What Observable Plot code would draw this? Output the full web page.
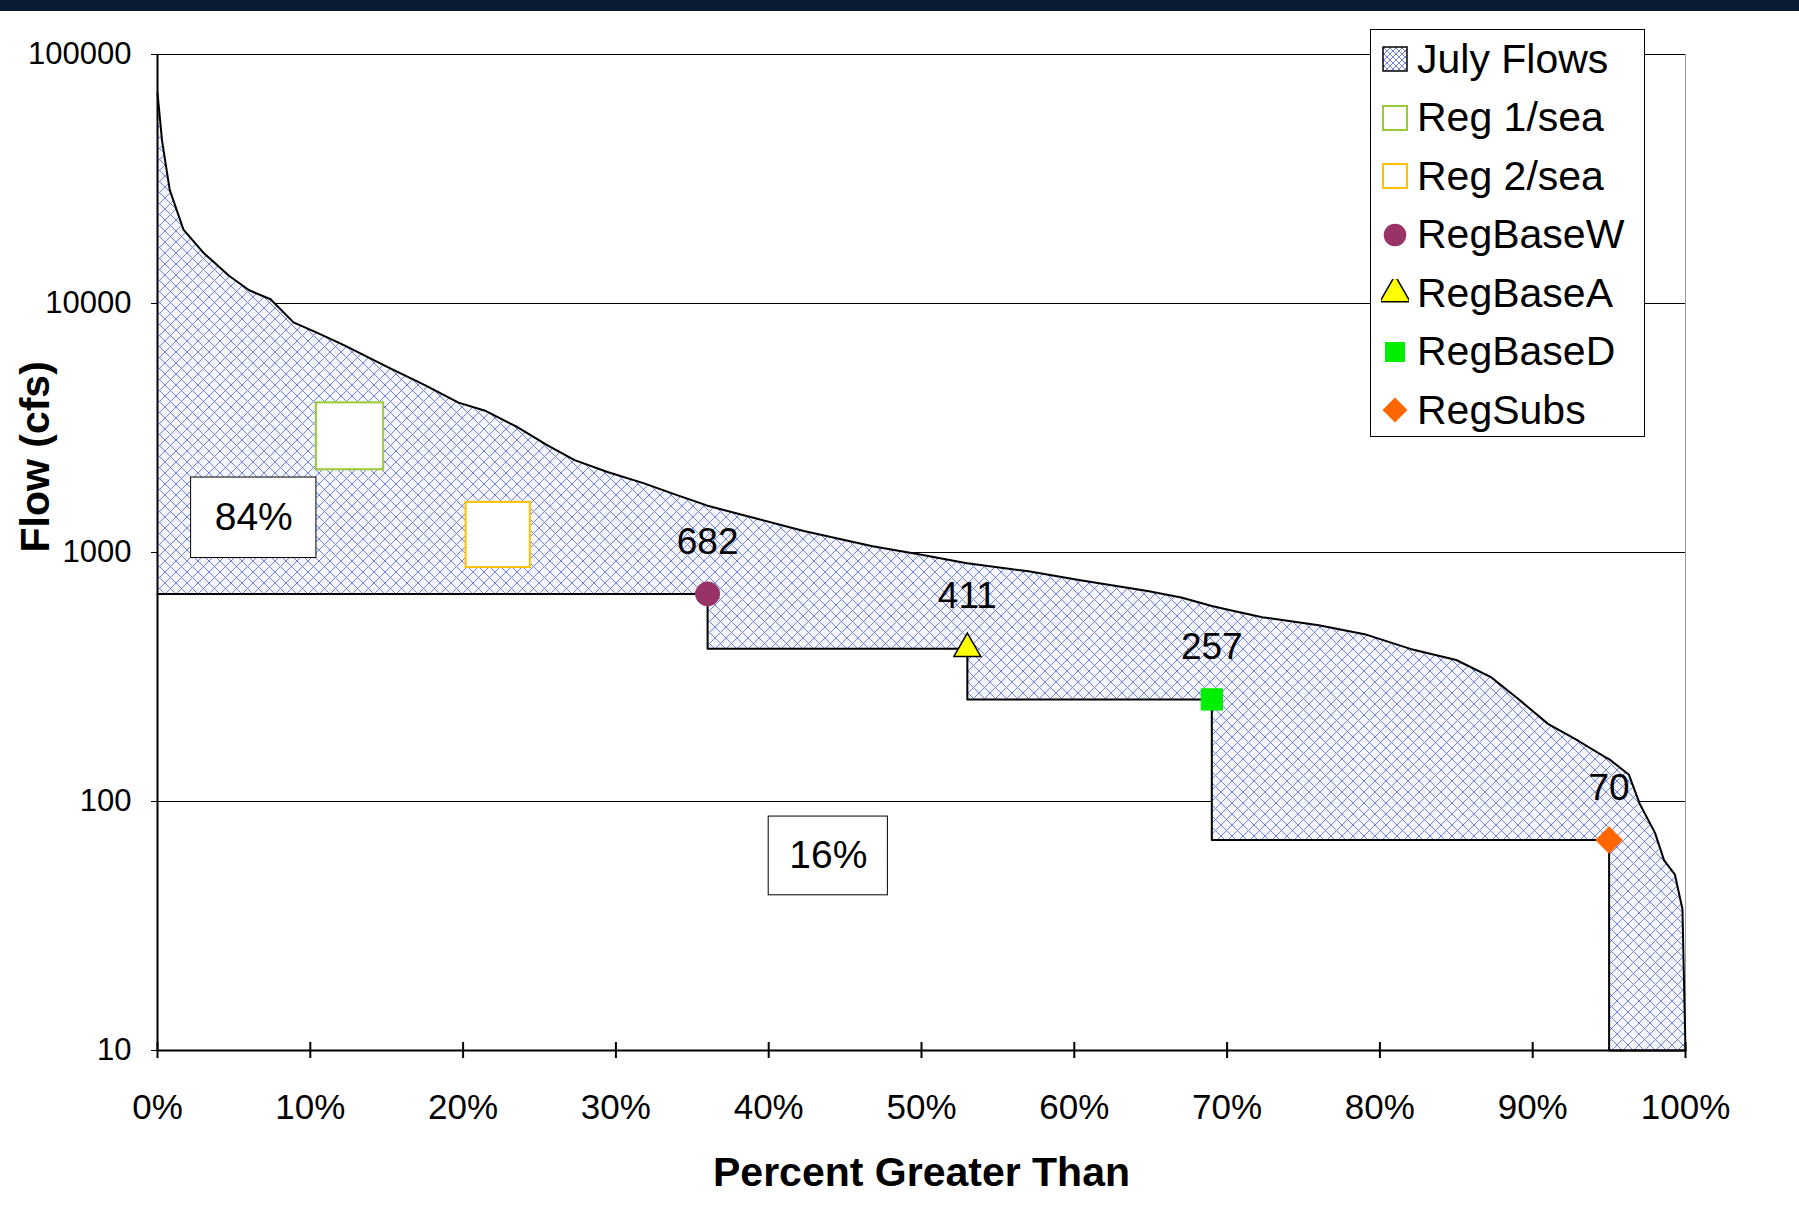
<!DOCTYPE html>
<html><head><meta charset="utf-8">
<script src="https://cdn.jsdelivr.net/npm/d3@7"></script>
<script src="https://cdn.jsdelivr.net/npm/@observablehq/plot@0.6"></script>
<style>
body{margin:0;background:#fff;font-family:"Liberation Sans",Arial,sans-serif}
#wrap{position:relative;width:1799px;height:1228px}
#band{position:absolute;left:0;top:0;width:1799px;height:11px;background:#0b1a33}
#legend{position:absolute;left:1370px;top:29px;width:275px;height:408px;border:1.5px solid #000;background:#fff;box-sizing:border-box;padding:0 0 0 10px}
#legend div{display:flex;align-items:center;height:58.5px;font-size:41px}
#legend svg{margin-right:8px}
</style></head>
<body><div id="wrap"><div id="chart"></div><div id="band"></div><div id="legend"></div></div>
<script>
// flow duration curve (percent exceeded, cfs)
const pct  = [0, 0.3, 0.8, 1.7, 3, 4.7, 6, 7.4, 8.9, 10.5, 12.2, 15.2, 17.5, 19.7, 21.5, 23.5, 25.5, 27.3, 29.5, 31.8, 34, 35.9, 36, 39, 42.3, 46.8, 50, 52.8, 53, 57, 60.3, 64.8, 67, 69, 70, 72.3, 76, 79, 82, 85, 87.3, 89, 91, 93, 94.8, 95, 96.3, 97, 98, 98.6, 99.3, 99.8, 100]
const flow = [70000, 45000, 28600, 19800, 16000, 12900, 11300, 10400, 8400, 7600, 6800, 5500, 4700, 4000, 3700, 3200, 2700, 2350, 2100, 1900, 1700, 1550, 1540, 1380, 1220, 1060, 980, 910, 905, 840, 775, 700, 660, 610, 590, 550, 510, 470, 410, 370, 315, 260, 205, 175, 150, 148, 128, 98, 75, 58, 51, 37, 10]

// regulation steps
const stepStart = [0, 36, 53, 69, 95]
const stepEnd   = [36, 53, 69, 95, 100]
const stepFlow  = [682, 411, 257, 70, 10]

// markers
const markNames = ['RegBaseW', 'RegBaseA', 'RegBaseD', 'RegSubs']
const markPct   = [36, 53, 69, 95]
const markFlow  = [682, 411, 257, 70]
const markColor = ['#993366', '#ffff00', '#00ee00', '#ff6600']
const markSym   = ['circle', 'triangle', 'square', 'diamond2']

// boxes [x1,x2,y1,y2] in data units
const regNames  = ['Reg 1/sea', 'Reg 2/sea']
const regColor  = ['#99cc33', '#ffc000']
const regBox    = [[10.4, 14.8, 2150, 3990], [20.2, 24.4, 870, 1590]]
const pctLabels = ['84%', '16%']
const pctBox    = [[2.2, 10.4, 950, 2000], [40, 47.8, 42, 87]]

const stepAt = x => { for (let i = 0; i < stepStart.length; i++) if (x < stepEnd[i] || i == stepStart.length - 1) return stepFlow[i] }
const curve = pct.map((p, i) => ({p, f: flow[i]}))
// area: add step break points
const area = []
curve.forEach(d => {
  const k = stepStart.indexOf(d.p)
  if (k > 0) { area.push({p: d.p, lo: stepFlow[k - 1], hi: d.f}); area.push({p: d.p, lo: stepFlow[k], hi: d.f}) }
  else area.push({p: d.p, lo: stepAt(d.p), hi: d.f})
})
const stepLine = []
stepStart.forEach((s, i) => { stepLine.push({p: s, f: stepFlow[i]}); stepLine.push({p: stepEnd[i], f: stepFlow[i]}) })
const marks = markNames.map((n, i) => ({n, p: markPct[i], f: markFlow[i], c: markColor[i], s: markSym[i]}))
const regs = regBox.map((b, i) => ({x1: b[0], x2: b[1], y1: b[2], y2: b[3], c: regColor[i]}))
const pboxes = pctBox.map((b, i) => ({x1: b[0], x2: b[1], y1: b[2], y2: b[3], t: pctLabels[i], cx: (b[0] + b[1]) / 2, cy: Math.sqrt(b[2] * b[3])}))

const chart = Plot.plot({
  width: 1799, height: 1228,
  marginLeft: 157, marginRight: 114, marginTop: 54, marginBottom: 178,
  style: {fontFamily: '"Liberation Sans", Arial, sans-serif', background: '#fff'},
  x: {domain: [0, 100]},
  y: {type: 'log', domain: [10, 100000]},
  marks: [
    Plot.ruleY([100, 1000, 10000, 100000], {stroke: '#000', strokeWidth: 1}),
    Plot.ruleX([100], {stroke: '#999', strokeWidth: 1}),
    Plot.areaY(area, {x: 'p', y1: 'lo', y2: 'hi', fill: '#ccd', className: 'hatch'}),
    Plot.line(curve, {x: 'p', y: 'f', stroke: '#000', strokeWidth: 2}),
    Plot.line(stepLine, {x: 'p', y: 'f', stroke: '#000', strokeWidth: 2}),
    Plot.rect(regs, {x1: 'x1', x2: 'x2', y1: 'y1', y2: 'y2', fill: '#fff', stroke: 'c', strokeWidth: 2}),
    Plot.rect(pboxes, {x1: 'x1', x2: 'x2', y1: 'y1', y2: 'y2', fill: '#fff', stroke: '#000', strokeWidth: 1}),
    Plot.text(pboxes, {x: 'cx', y: 'cy', text: 't', fontSize: 39, fill: '#000'}),
    Plot.dot(marks.filter(d => d.s != 'triangle'), {x: 'p', y: 'f', symbol: 's', fill: 'c', stroke: 'c', strokeWidth: 1, r: 12}),
    Plot.dot(marks.filter(d => d.s == 'triangle'), {x: 'p', y: 'f', symbol: 'triangle', fill: 'c', stroke: '#000', strokeWidth: 1.5, r: 10}),
    Plot.text(marks, {x: 'p', y: 'f', text: 'f', dy: -52, fontSize: 37, fill: '#000'}),
    Plot.ruleX([0], {stroke: '#000', strokeWidth: 2}),
    Plot.ruleY([10], {stroke: '#000', strokeWidth: 2}),
    Plot.axisX({ticks: d3.range(0, 101, 10), tickFormat: d => d + '%', tickSize: 8, tickPadding: 36, fontSize: 35, stroke: '#000', strokeWidth: 2, label: null}),
    Plot.axisX({ticks: d3.range(0, 101, 10), tickFormat: () => '', tickSize: 8, dy: -8, stroke: '#000', strokeWidth: 2, label: null}),
    Plot.axisY({ticks: [10, 100, 1000, 10000, 100000], tickFormat: d => String(d), tickSize: 6, tickPadding: 20, fontSize: 31, label: null}),
    Plot.text(['Percent Greater Than'], {frameAnchor: 'bottom', dy: 135, fontSize: 41, fontWeight: 'bold', fill: '#000'}),
    Plot.text(['Flow (cfs)'], {frameAnchor: 'left', dx: -122, rotate: -90, fontSize: 41, fontWeight: 'bold', fill: '#000'})
  ]
})

const svg = d3.select(chart)
const pat = svg.insert('defs', ':first-child').append('pattern').attr('id', 'xh').attr('patternUnits', 'userSpaceOnUse').attr('width', 11).attr('height', 11)
pat.append('rect').attr('width', 11).attr('height', 11).attr('fill', '#f4f5fd')
pat.append('path').attr('d', 'M0,0L11,11M11,0L0,11').attr('stroke', '#7384dd').attr('stroke-width', 1)
svg.selectAll('.hatch path').attr('fill', 'url(#xh)')
d3.select('#chart').append(() => chart)

// legend
const items = [{n: 'July Flows', s: 'hatch'}, ...regNames.map((n, i) => ({n, s: 'box', c: regColor[i]})), ...marks.map(m => ({n: m.n, s: m.s, c: m.c}))]
const lg = d3.select('#legend')
items.forEach(it => {
  const row = lg.append('div')
  const s = row.append('svg').attr('width', 28).attr('height', 28)
  if (it.s == 'hatch') {
    const p = s.append('defs').append('pattern').attr('id', 'xh2').attr('patternUnits', 'userSpaceOnUse').attr('width', 6).attr('height', 6)
    p.append('path').attr('d', 'M0,0L6,6M6,0L0,6').attr('stroke', '#7384dd')
    s.append('rect').attr('x', 2).attr('y', 2).attr('width', 24).attr('height', 24).attr('fill', 'url(#xh2)').attr('stroke', '#000').attr('stroke-width', 1.5)
  } else if (it.s == 'box') {
    s.append('rect').attr('x', 2).attr('y', 2).attr('width', 24).attr('height', 24).attr('fill', '#fff').attr('stroke', it.c).attr('stroke-width', 2)
  } else {
    s.append('path').attr('transform', 'translate(14,14)').attr('d', d3.symbol(it.s == 'circle' ? d3.symbolCircle : it.s == 'triangle' ? d3.symbolTriangle : it.s == 'square' ? d3.symbolSquare : d3.symbolDiamond2, 400)())
      .attr('fill', it.c).attr('stroke', it.s == 'triangle' ? '#000' : 'none').attr('stroke-width', 1.5)
  }
  row.append('span').text(it.n)
})
</script></body></html>
